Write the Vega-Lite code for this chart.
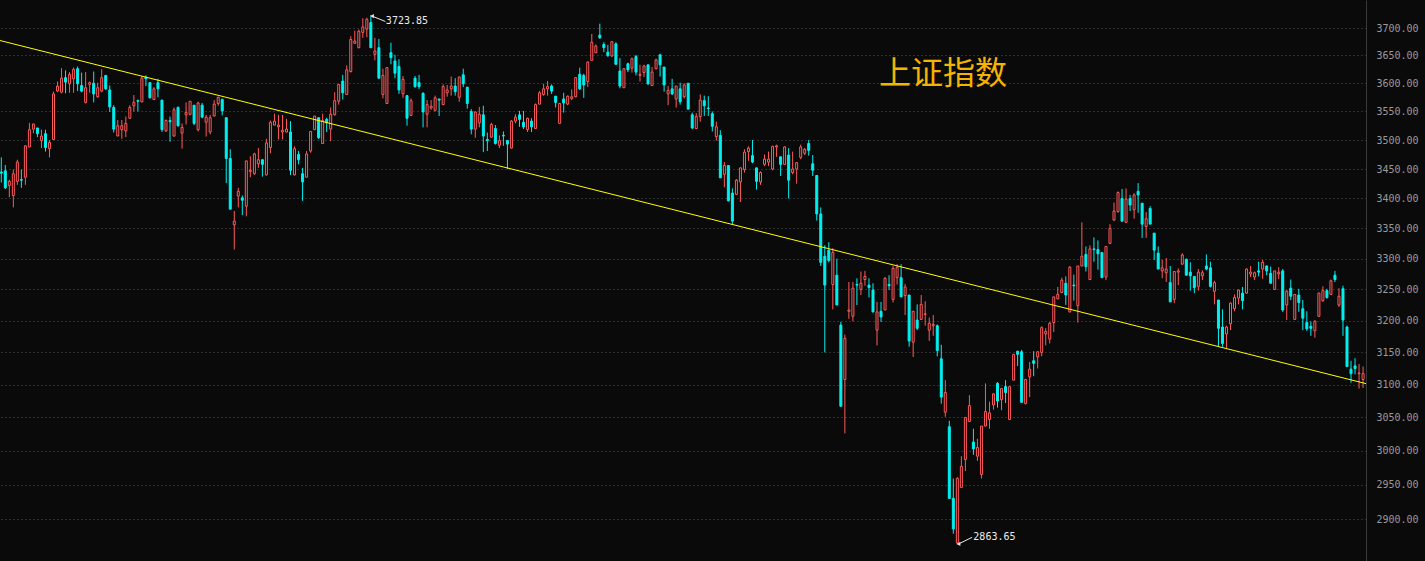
{
"$schema": "https://vega.github.io/schema/vega-lite/v6.json",
"width": 1366, "height": 561,
"autosize": "none",
"padding": {"left": 0, "top": 0, "right": 59, "bottom": 0},
"background": "#0a0a0a",
"config": {"view": {"stroke": null}},
"datasets": {
"k": [
{"i":0,"o":3445,"h":3470,"l":3427,"c":3443},{"i":1,"o":3447,"h":3457,"l":3416,"c":3418},{"i":2,"o":3422,"h":3432,"l":3402,"c":3429},{"i":3,"o":3405,"h":3449,"l":3385,"c":3442},{"i":4,"o":3429,"h":3466,"l":3423,"c":3462},{"i":5,"o":3432,"h":3449,"l":3418,"c":3431},{"i":6,"o":3436,"h":3491,"l":3423,"c":3490},{"i":7,"o":3488,"h":3530,"l":3488,"c":3518},{"i":8,"o":3519,"h":3528,"l":3512,"c":3528},{"i":9,"o":3521,"h":3521,"l":3505,"c":3511},
{"i":10,"o":3499,"h":3518,"l":3486,"c":3507},{"i":11,"o":3511,"h":3518,"l":3480,"c":3487},{"i":12,"o":3485,"h":3500,"l":3470,"c":3496},{"i":13,"o":3501,"h":3585,"l":3501,"c":3581},{"i":14,"o":3586,"h":3603,"l":3584,"c":3595},{"i":15,"o":3584,"h":3627,"l":3582,"c":3609},{"i":16,"o":3610,"h":3623,"l":3582,"c":3602},{"i":17,"o":3599,"h":3620,"l":3583,"c":3616},{"i":18,"o":3608,"h":3628,"l":3583,"c":3625},{"i":19,"o":3626,"h":3630,"l":3586,"c":3599},
{"i":20,"o":3596,"h":3619,"l":3584,"c":3586},{"i":21,"o":3566,"h":3620,"l":3564,"c":3592},{"i":22,"o":3598,"h":3603,"l":3583,"c":3601},{"i":23,"o":3600,"h":3621,"l":3566,"c":3581},{"i":24,"o":3576,"h":3601,"l":3574,"c":3592},{"i":25,"o":3586,"h":3625,"l":3584,"c":3610},{"i":26,"o":3614,"h":3614,"l":3588,"c":3590},{"i":27,"o":3588,"h":3596,"l":3549,"c":3558},{"i":28,"o":3557,"h":3561,"l":3513,"c":3519},{"i":29,"o":3507,"h":3535,"l":3507,"c":3525},
{"i":30,"o":3518,"h":3535,"l":3502,"c":3525},{"i":31,"o":3516,"h":3541,"l":3505,"c":3529},{"i":32,"o":3538,"h":3561,"l":3537,"c":3557},{"i":33,"o":3560,"h":3579,"l":3550,"c":3566},{"i":34,"o":3569,"h":3571,"l":3550,"c":3568},{"i":35,"o":3567,"h":3613,"l":3566,"c":3609},{"i":36,"o":3611,"h":3614,"l":3595,"c":3608},{"i":37,"o":3601,"h":3602,"l":3573,"c":3574},{"i":38,"o":3571,"h":3593,"l":3570,"c":3590},{"i":39,"o":3601,"h":3608,"l":3575,"c":3590},
{"i":40,"o":3570,"h":3570,"l":3514,"c":3518},{"i":41,"o":3516,"h":3536,"l":3514,"c":3534},{"i":42,"o":3534,"h":3541,"l":3497,"c":3532},{"i":43,"o":3507,"h":3557,"l":3506,"c":3553},{"i":44,"o":3557,"h":3559,"l":3523,"c":3525},{"i":45,"o":3512,"h":3529,"l":3485,"c":3522},{"i":46,"o":3544,"h":3566,"l":3527,"c":3548},{"i":47,"o":3545,"h":3568,"l":3543,"c":3568},{"i":48,"o":3561,"h":3561,"l":3526,"c":3529},{"i":49,"o":3518,"h":3567,"l":3515,"c":3565},
{"i":50,"o":3561,"h":3565,"l":3538,"c":3540},{"i":51,"o":3531,"h":3544,"l":3506,"c":3540},{"i":52,"o":3514,"h":3544,"l":3510,"c":3539},{"i":53,"o":3542,"h":3570,"l":3541,"c":3563},{"i":54,"o":3564,"h":3576,"l":3560,"c":3575},{"i":55,"o":3571,"h":3573,"l":3543,"c":3551},{"i":56,"o":3539,"h":3539,"l":3426,"c":3468},{"i":57,"o":3468,"h":3484,"l":3382,"c":3382},{"i":58,"o":3356,"h":3379,"l":3315,"c":3362},{"i":59,"o":3404,"h":3418,"l":3385,"c":3412},
{"i":60,"o":3401,"h":3405,"l":3372,"c":3397},{"i":61,"o":3387,"h":3464,"l":3370,"c":3464},{"i":62,"o":3446,"h":3472,"l":3436,"c":3448},{"i":63,"o":3442,"h":3478,"l":3440,"c":3476},{"i":64,"o":3459,"h":3486,"l":3452,"c":3466},{"i":65,"o":3466,"h":3466,"l":3437,"c":3458},{"i":66,"o":3440,"h":3502,"l":3439,"c":3495},{"i":67,"o":3487,"h":3534,"l":3477,"c":3531},{"i":68,"o":3526,"h":3546,"l":3526,"c":3533},{"i":69,"o":3523,"h":3544,"l":3501,"c":3526},
{"i":70,"o":3514,"h":3544,"l":3501,"c":3517},{"i":71,"o":3514,"h":3537,"l":3513,"c":3519},{"i":72,"o":3514,"h":3533,"l":3440,"c":3448},{"i":73,"o":3440,"h":3489,"l":3439,"c":3485},{"i":74,"o":3475,"h":3481,"l":3458,"c":3466},{"i":75,"o":3442,"h":3452,"l":3396,"c":3428},{"i":76,"o":3436,"h":3481,"l":3436,"c":3476},{"i":77,"o":3481,"h":3515,"l":3478,"c":3515},{"i":78,"o":3518,"h":3542,"l":3518,"c":3542},{"i":79,"o":3539,"h":3539,"l":3502,"c":3504},
{"i":80,"o":3494,"h":3546,"l":3493,"c":3534},{"i":81,"o":3536,"h":3539,"l":3514,"c":3530},{"i":82,"o":3519,"h":3557,"l":3498,"c":3545},{"i":83,"o":3544,"h":3584,"l":3543,"c":3569},{"i":84,"o":3568,"h":3598,"l":3562,"c":3598},{"i":85,"o":3604,"h":3615,"l":3571,"c":3583},{"i":86,"o":3580,"h":3632,"l":3580,"c":3624},{"i":87,"o":3621,"h":3685,"l":3619,"c":3679},{"i":88,"o":3672,"h":3695,"l":3671,"c":3676},{"i":89,"o":3664,"h":3697,"l":3663,"c":3694},
{"i":90,"o":3692,"h":3718,"l":3682,"c":3702},{"i":91,"o":3698,"h":3719,"l":3683,"c":3716},{"i":92,"o":3710,"h":3723.85,"l":3664,"c":3664},{"i":93,"o":3652,"h":3682,"l":3641,"c":3658},{"i":94,"o":3664,"h":3680,"l":3609,"c":3609},{"i":95,"o":3580,"h":3626,"l":3573,"c":3614},{"i":96,"o":3564,"h":3629,"l":3564,"c":3628},{"i":97,"o":3655,"h":3673,"l":3634,"c":3646},{"i":98,"o":3640,"h":3651,"l":3609,"c":3618},{"i":99,"o":3630,"h":3643,"l":3581,"c":3588},
{"i":100,"o":3581,"h":3613,"l":3574,"c":3607},{"i":101,"o":3578,"h":3578,"l":3525,"c":3538},{"i":102,"o":3543,"h":3573,"l":3543,"c":3569},{"i":103,"o":3609,"h":3613,"l":3592,"c":3594},{"i":104,"o":3601,"h":3615,"l":3590,"c":3594},{"i":105,"o":3582,"h":3584,"l":3522,"c":3549},{"i":106,"o":3545,"h":3570,"l":3522,"c":3562},{"i":107,"o":3556,"h":3570,"l":3553,"c":3559},{"i":108,"o":3552,"h":3578,"l":3550,"c":3574},{"i":109,"o":3572,"h":3572,"l":3542,"c":3570},
{"i":110,"o":3562,"h":3598,"l":3562,"c":3594},{"i":111,"o":3583,"h":3597,"l":3576,"c":3588},{"i":112,"o":3590,"h":3612,"l":3578,"c":3595},{"i":113,"o":3595,"h":3609,"l":3578,"c":3585},{"i":114,"o":3575,"h":3612,"l":3567,"c":3611},{"i":115,"o":3615,"h":3626,"l":3593,"c":3599},{"i":116,"o":3593,"h":3593,"l":3555,"c":3564},{"i":117,"o":3550,"h":3554,"l":3510,"c":3519},{"i":118,"o":3519,"h":3550,"l":3504,"c":3549},{"i":119,"o":3530,"h":3558,"l":3522,"c":3545},
{"i":120,"o":3544,"h":3560,"l":3479,"c":3507},{"i":121,"o":3501,"h":3513,"l":3481,"c":3499},{"i":122,"o":3505,"h":3530,"l":3504,"c":3527},{"i":123,"o":3520,"h":3526,"l":3492,"c":3494},{"i":124,"o":3491,"h":3508,"l":3486,"c":3499},{"i":125,"o":3508,"h":3515,"l":3490,"c":3507},{"i":126,"o":3499,"h":3499,"l":3450,"c":3493},{"i":127,"o":3486,"h":3535,"l":3485,"c":3533},{"i":128,"o":3533,"h":3545,"l":3529,"c":3540},{"i":129,"o":3544,"h":3551,"l":3523,"c":3536},
{"i":130,"o":3531,"h":3551,"l":3519,"c":3523},{"i":131,"o":3518,"h":3539,"l":3514,"c":3538},{"i":132,"o":3533,"h":3538,"l":3514,"c":3523},{"i":133,"o":3520,"h":3564,"l":3520,"c":3562},{"i":134,"o":3563,"h":3586,"l":3562,"c":3583},{"i":135,"o":3580,"h":3599,"l":3578,"c":3590},{"i":136,"o":3590,"h":3604,"l":3578,"c":3594},{"i":137,"o":3595,"h":3598,"l":3581,"c":3586},{"i":138,"o":3577,"h":3577,"l":3557,"c":3566},{"i":139,"o":3529,"h":3565,"l":3529,"c":3564},
{"i":140,"o":3572,"h":3583,"l":3548,"c":3565},{"i":141,"o":3563,"h":3578,"l":3561,"c":3577},{"i":142,"o":3573,"h":3589,"l":3570,"c":3576},{"i":143,"o":3576,"h":3611,"l":3575,"c":3610},{"i":144,"o":3616,"h":3628,"l":3588,"c":3590},{"i":145,"o":3614,"h":3617,"l":3574,"c":3597},{"i":146,"o":3603,"h":3639,"l":3593,"c":3638},{"i":147,"o":3641,"h":3689,"l":3641,"c":3674},{"i":148,"o":3655,"h":3670,"l":3654,"c":3667},{"i":149,"o":3687,"h":3708,"l":3680,"c":3682},
{"i":150,"o":3670,"h":3674,"l":3656,"c":3664},{"i":151,"o":3656,"h":3669,"l":3647,"c":3650},{"i":152,"o":3649,"h":3676,"l":3647,"c":3675},{"i":153,"o":3671,"h":3674,"l":3634,"c":3634},{"i":154,"o":3622,"h":3645,"l":3591,"c":3595},{"i":155,"o":3592,"h":3627,"l":3592,"c":3626},{"i":156,"o":3635,"h":3637,"l":3620,"c":3624},{"i":157,"o":3627,"h":3646,"l":3619,"c":3644},{"i":158,"o":3648,"h":3651,"l":3614,"c":3620},{"i":159,"o":3614,"h":3633,"l":3603,"c":3616},
{"i":160,"o":3619,"h":3633,"l":3611,"c":3631},{"i":161,"o":3633,"h":3633,"l":3597,"c":3599},{"i":162,"o":3596,"h":3629,"l":3596,"c":3620},{"i":163,"o":3626,"h":3644,"l":3625,"c":3642},{"i":164,"o":3651,"h":3653,"l":3612,"c":3633},{"i":165,"o":3629,"h":3629,"l":3585,"c":3597},{"i":166,"o":3581,"h":3595,"l":3561,"c":3587},{"i":167,"o":3590,"h":3608,"l":3579,"c":3581},{"i":168,"o":3572,"h":3595,"l":3557,"c":3595},{"i":169,"o":3590,"h":3601,"l":3562,"c":3567},
{"i":170,"o":3576,"h":3600,"l":3573,"c":3597},{"i":171,"o":3600,"h":3600,"l":3554,"c":3554},{"i":172,"o":3544,"h":3548,"l":3519,"c":3521},{"i":173,"o":3520,"h":3547,"l":3520,"c":3541},{"i":174,"o":3541,"h":3580,"l":3532,"c":3570},{"i":175,"o":3569,"h":3578,"l":3542,"c":3560},{"i":176,"o":3556,"h":3577,"l":3542,"c":3555},{"i":177,"o":3546,"h":3550,"l":3515,"c":3524},{"i":178,"o":3506,"h":3532,"l":3499,"c":3523},{"i":179,"o":3508,"h":3517,"l":3435,"c":3435},
{"i":180,"o":3441,"h":3462,"l":3419,"c":3456},{"i":181,"o":3456,"h":3456,"l":3395,"c":3396},{"i":182,"o":3409,"h":3417,"l":3357,"c":3362},{"i":183,"o":3407,"h":3433,"l":3406,"c":3431},{"i":184,"o":3428,"h":3453,"l":3394,"c":3452},{"i":185,"o":3449,"h":3484,"l":3444,"c":3479},{"i":186,"o":3480,"h":3489,"l":3464,"c":3486},{"i":187,"o":3473,"h":3500,"l":3460,"c":3462},{"i":188,"o":3452,"h":3452,"l":3415,"c":3429},{"i":189,"o":3428,"h":3446,"l":3423,"c":3444},
{"i":190,"o":3458,"h":3475,"l":3455,"c":3467},{"i":191,"o":3462,"h":3480,"l":3455,"c":3467},{"i":192,"o":3450,"h":3490,"l":3448,"c":3489},{"i":193,"o":3488,"h":3492,"l":3471,"c":3490},{"i":194,"o":3471,"h":3471,"l":3438,"c":3458},{"i":195,"o":3458,"h":3489,"l":3458,"c":3488},{"i":196,"o":3474,"h":3486,"l":3400,"c":3431},{"i":197,"o":3444,"h":3480,"l":3441,"c":3450},{"i":198,"o":3450,"h":3462,"l":3425,"c":3461},{"i":199,"o":3470,"h":3492,"l":3467,"c":3488},
{"i":200,"o":3477,"h":3486,"l":3474,"c":3484},{"i":201,"o":3494,"h":3500,"l":3473,"c":3482},{"i":202,"o":3459,"h":3474,"l":3438,"c":3448},{"i":203,"o":3439,"h":3439,"l":3363,"c":3374},{"i":204,"o":3374,"h":3385,"l":3288,"c":3294},{"i":205,"o":3304,"h":3322,"l":3150,"c":3257},{"i":206,"o":3314,"h":3327,"l":3294,"c":3297},{"i":207,"o":3258,"h":3317,"l":3218,"c":3310},{"i":208,"o":3273,"h":3300,"l":3225,"c":3225},{"i":209,"o":3193,"h":3198,"l":3067,"c":3067},
{"i":210,"o":3108,"h":3178,"l":3026,"c":3172},{"i":211,"o":3215,"h":3262,"l":3203,"c":3217},{"i":212,"o":3207,"h":3262,"l":3199,"c":3252},{"i":213,"o":3258,"h":3268,"l":3225,"c":3257},{"i":214,"o":3250,"h":3279,"l":3241,"c":3260},{"i":215,"o":3266,"h":3280,"l":3256,"c":3271},{"i":216,"o":3257,"h":3268,"l":3237,"c":3253},{"i":217,"o":3249,"h":3260,"l":3213,"c":3214},{"i":218,"o":3185,"h":3230,"l":3161,"c":3214},{"i":219,"o":3215,"h":3230,"l":3198,"c":3206},
{"i":220,"o":3217,"h":3270,"l":3217,"c":3268},{"i":221,"o":3258,"h":3273,"l":3249,"c":3256},{"i":222,"o":3234,"h":3288,"l":3229,"c":3284},{"i":223,"o":3269,"h":3291,"l":3258,"c":3286},{"i":224,"o":3269,"h":3291,"l":3238,"c":3238},{"i":225,"o":3240,"h":3259,"l":3209,"c":3254},{"i":226,"o":3241,"h":3241,"l":3159,"c":3168},{"i":227,"o":3166,"h":3215,"l":3143,"c":3215},{"i":228,"o":3201,"h":3226,"l":3185,"c":3188},{"i":229,"o":3202,"h":3241,"l":3201,"c":3226},
{"i":230,"o":3210,"h":3231,"l":3192,"c":3211},{"i":231,"o":3185,"h":3205,"l":3168,"c":3196},{"i":232,"o":3192,"h":3209,"l":3176,"c":3194},{"i":233,"o":3192,"h":3194,"l":3144,"c":3153},{"i":234,"o":3140,"h":3162,"l":3071,"c":3081},{"i":235,"o":3058,"h":3107,"l":3051,"c":3088},{"i":236,"o":3036,"h":3045,"l":2930,"c":2930},{"i":237,"o":2930,"h":2959,"l":2879,"c":2886},{"i":238,"o":2866,"h":2961,"l":2863.65,"c":2959},{"i":239,"o":2946,"h":2992,"l":2946,"c":2977},
{"i":240,"o":2987,"h":3050,"l":2970,"c":3050},{"i":241,"o":3044,"h":3084,"l":3043,"c":3068},{"i":242,"o":3013,"h":3033,"l":2994,"c":3003},{"i":243,"o":2992,"h":3018,"l":2985,"c":3005},{"i":244,"o":2965,"h":3037,"l":2959,"c":3037},{"i":245,"o":3037,"h":3102,"l":3037,"c":3059},{"i":246,"o":3047,"h":3074,"l":3033,"c":3057},{"i":247,"o":3069,"h":3087,"l":3062,"c":3086},{"i":248,"o":3102,"h":3104,"l":3065,"c":3075},{"i":249,"o":3077,"h":3095,"l":3061,"c":3094},
{"i":250,"o":3097,"h":3107,"l":3072,"c":3088},{"i":251,"o":3047,"h":3097,"l":3046,"c":3097},{"i":252,"o":3107,"h":3147,"l":3107,"c":3147},{"i":253,"o":3152,"h":3152,"l":3129,"c":3147},{"i":254,"o":3151,"h":3154,"l":3073,"c":3073},{"i":255,"o":3071,"h":3109,"l":3070,"c":3108},{"i":256,"o":3112,"h":3135,"l":3081,"c":3124},{"i":257,"o":3137,"h":3152,"l":3113,"c":3133},{"i":258,"o":3143,"h":3152,"l":3125,"c":3151},{"i":259,"o":3150,"h":3191,"l":3144,"c":3189},
{"i":260,"o":3179,"h":3188,"l":3161,"c":3183},{"i":261,"o":3171,"h":3198,"l":3164,"c":3196},{"i":262,"o":3197,"h":3238,"l":3182,"c":3238},{"i":263,"o":3235,"h":3254,"l":3234,"c":3242},{"i":264,"o":3245,"h":3269,"l":3244,"c":3265},{"i":265,"o":3260,"h":3271,"l":3225,"c":3241},{"i":266,"o":3214,"h":3288,"l":3213,"c":3286},{"i":267,"o":3257,"h":3274,"l":3232,"c":3256},{"i":268,"o":3224,"h":3288,"l":3197,"c":3288},{"i":269,"o":3288,"h":3360,"l":3288,"c":3304},
{"i":270,"o":3307,"h":3320,"l":3279,"c":3287},{"i":271,"o":3266,"h":3322,"l":3265,"c":3316},{"i":272,"o":3316,"h":3335,"l":3295,"c":3315},{"i":273,"o":3315,"h":3330,"l":3282,"c":3308},{"i":274,"o":3310,"h":3310,"l":3269,"c":3269},{"i":275,"o":3270,"h":3320,"l":3265,"c":3320},{"i":276,"o":3325,"h":3357,"l":3324,"c":3350},{"i":277,"o":3364,"h":3393,"l":3362,"c":3379},{"i":278,"o":3378,"h":3412,"l":3376,"c":3410},{"i":279,"o":3400,"h":3416,"l":3361,"c":3362},
{"i":280,"o":3360,"h":3417,"l":3359,"c":3399},{"i":281,"o":3400,"h":3406,"l":3379,"c":3389},{"i":282,"o":3381,"h":3409,"l":3366,"c":3406},{"i":283,"o":3412,"h":3426,"l":3376,"c":3406},{"i":284,"o":3392,"h":3392,"l":3334,"c":3357},{"i":285,"o":3353,"h":3377,"l":3334,"c":3366},{"i":286,"o":3383,"h":3387,"l":3357,"c":3357},{"i":287,"o":3342,"h":3342,"l":3298,"c":3314},{"i":288,"o":3309,"h":3320,"l":3283,"c":3283},{"i":289,"o":3280,"h":3298,"l":3268,"c":3285},
{"i":290,"o":3277,"h":3301,"l":3262,"c":3283},{"i":291,"o":3261,"h":3288,"l":3230,"c":3230},{"i":292,"o":3234,"h":3279,"l":3228,"c":3279},{"i":293,"o":3278,"h":3284,"l":3257,"c":3280},{"i":294,"o":3291,"h":3309,"l":3290,"c":3306},{"i":295,"o":3299,"h":3300,"l":3273,"c":3273},{"i":296,"o":3278,"h":3294,"l":3248,"c":3272},{"i":297,"o":3271,"h":3271,"l":3244,"c":3253},{"i":298,"o":3255,"h":3283,"l":3248,"c":3278},{"i":299,"o":3272,"h":3281,"l":3265,"c":3277},
{"i":300,"o":3288,"h":3307,"l":3281,"c":3283},{"i":301,"o":3285,"h":3295,"l":3253,"c":3255},{"i":302,"o":3247,"h":3264,"l":3226,"c":3261},{"i":303,"o":3233,"h":3233,"l":3159,"c":3188},{"i":304,"o":3190,"h":3218,"l":3159,"c":3164},{"i":305,"o":3179,"h":3192,"l":3157,"c":3190},{"i":306,"o":3195,"h":3229,"l":3185,"c":3228},{"i":307,"o":3219,"h":3242,"l":3215,"c":3237},{"i":308,"o":3236,"h":3250,"l":3226,"c":3249},{"i":309,"o":3244,"h":3254,"l":3218,"c":3232},
{"i":310,"o":3244,"h":3284,"l":3243,"c":3283},{"i":311,"o":3275,"h":3288,"l":3270,"c":3278},{"i":312,"o":3270,"h":3279,"l":3265,"c":3277},{"i":313,"o":3280,"h":3295,"l":3271,"c":3278},{"i":314,"o":3283,"h":3298,"l":3267,"c":3294},{"i":315,"o":3288,"h":3289,"l":3273,"c":3280},{"i":316,"o":3276,"h":3287,"l":3260,"c":3260},{"i":317,"o":3250,"h":3280,"l":3250,"c":3280},{"i":318,"o":3275,"h":3286,"l":3267,"c":3278},{"i":319,"o":3280,"h":3283,"l":3214,"c":3217},
{"i":320,"o":3225,"h":3249,"l":3201,"c":3247},{"i":321,"o":3252,"h":3266,"l":3233,"c":3239},{"i":322,"o":3202,"h":3242,"l":3201,"c":3242},{"i":323,"o":3241,"h":3251,"l":3214,"c":3229},{"i":324,"o":3219,"h":3233,"l":3185,"c":3204},{"i":325,"o":3197,"h":3215,"l":3184,"c":3187},{"i":326,"o":3191,"h":3199,"l":3176,"c":3188},{"i":327,"o":3184,"h":3201,"l":3173,"c":3199},{"i":328,"o":3207,"h":3245,"l":3206,"c":3244},{"i":329,"o":3232,"h":3255,"l":3230,"c":3248},
{"i":330,"o":3248,"h":3251,"l":3235,"c":3237},{"i":331,"o":3242,"h":3266,"l":3241,"c":3264},{"i":332,"o":3273,"h":3280,"l":3262,"c":3266},{"i":333,"o":3225,"h":3252,"l":3222,"c":3239},{"i":334,"o":3251,"h":3256,"l":3176,"c":3201},{"i":335,"o":3190,"h":3192,"l":3128,"c":3128},{"i":336,"o":3124,"h":3137,"l":3103,"c":3117},{"i":337,"o":3129,"h":3141,"l":3116,"c":3125},{"i":338,"o":3117,"h":3132,"l":3094,"c":3118},{"i":339,"o":3108,"h":3128,"l":3095,"c":3117}
],
"trend": [{"i": -0.32, "v": 3677.1}, {"i": 339.73, "v": 3101.6}],
"arrows": [{"i": 92.3, "v": 3722, "i2": 95.6, "v2": 3712}, {"i": 238.3, "v": 2864.5, "i2": 241.7, "v2": 2874}],
"hi": [{"i": 92, "v": 3723.85, "label": "3723.85"}],
"lo": [{"i": 238, "v": 2863.65, "label": "2863.65"}],
"ttl": [{"i": 234.4, "v": 3616.5, "label": "上证指数"}]
},
"layer": [
{"data": {"name": "k"},
 "mark": {"type": "rule", "strokeWidth": 1},
 "encoding": {
  "x": {"field": "i", "type": "quantitative", "scale": {"domain": [-0.32, 339.73], "nice": false, "zero": false, "padding": 0}, "axis": null},
  "y": {"field": "l", "type": "quantitative", "scale": {"type": "log", "domain": [2840.4, 3751.75], "nice": false, "zero": false, "padding": 0},
        "axis": {"orient": "right", "values": [2900,2950,3000,3050,3100,3150,3200,3250,3300,3350,3400,3450,3500,3550,3600,3650,3700], "format": ".2f", "title": null,
                 "labelFont": "DejaVu Sans Mono", "labelFontSize": 10, "labelColor": "#9a9a9a", "labelPadding": 10, "labelBaseline": "middle",
                 "ticks": false, "domain": true, "domainColor": "#3a3a3a", "domainWidth": 1,
                 "grid": true, "gridColor": "#555555", "gridDash": [1, 3], "gridWidth": 1}},
  "y2": {"field": "h"},
  "color": {"condition": {"test": "datum.c >= datum.o", "value": "#ff5a5a"}, "value": "#00f0f0"}
 }},
{"data": {"name": "k"},
 "mark": {"type": "bar", "width": 2, "strokeWidth": 1},
 "encoding": {
  "x": {"field": "i", "type": "quantitative"},
  "y": {"field": "o", "type": "quantitative"},
  "y2": {"field": "c"},
  "fill": {"condition": {"test": "datum.c >= datum.o", "value": "#0a0a0a"}, "value": "#00f0f0"},
  "stroke": {"condition": {"test": "datum.c >= datum.o", "value": "#ff5a5a"}, "value": "#00f0f0"}
 }},
{"data": {"name": "trend"},
 "mark": {"type": "line", "color": "#ffff00", "strokeWidth": 1},
 "encoding": {
  "x": {"field": "i", "type": "quantitative"},
  "y": {"field": "v", "type": "quantitative"}
 }},
{"data": {"name": "arrows"},
 "mark": {"type": "rule", "color": "#e8e8e8", "strokeWidth": 1},
 "encoding": {
  "x": {"field": "i", "type": "quantitative"},
  "y": {"field": "v", "type": "quantitative"},
  "x2": {"field": "i2"},
  "y2": {"field": "v2"}
 }},
{"data": {"name": "arrows"},
 "mark": {"type": "point", "shape": "triangle-left", "filled": true, "color": "#e8e8e8", "size": 18, "opacity": 1},
 "encoding": {
  "x": {"field": "i", "type": "quantitative"},
  "y": {"field": "v", "type": "quantitative"}
 }},
{"data": {"name": "hi"},
 "mark": {"type": "text", "font": "DejaVu Sans Mono", "fontSize": 10, "color": "#ececec", "align": "left", "baseline": "middle", "dx": 15, "dy": 6},
 "encoding": {
  "x": {"field": "i", "type": "quantitative"},
  "y": {"field": "v", "type": "quantitative"},
  "text": {"field": "label"}
 }},
{"data": {"name": "lo"},
 "mark": {"type": "text", "font": "DejaVu Sans Mono", "fontSize": 10, "color": "#ececec", "align": "left", "baseline": "middle", "dx": 16, "dy": -8},
 "encoding": {
  "x": {"field": "i", "type": "quantitative"},
  "y": {"field": "v", "type": "quantitative"},
  "text": {"field": "label"}
 }},
{"data": {"name": "ttl"},
 "mark": {"type": "text", "font": "Noto Sans CJK SC", "fontSize": 32, "color": "#f5b400", "align": "center", "baseline": "middle"},
 "encoding": {
  "x": {"field": "i", "type": "quantitative"},
  "y": {"field": "v", "type": "quantitative"},
  "text": {"field": "label"}
 }}
]
}
